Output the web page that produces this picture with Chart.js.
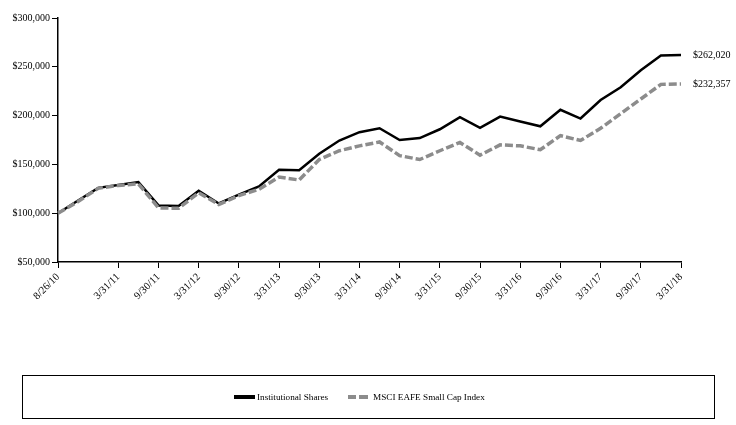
<!DOCTYPE html>
<html>
<head>
<meta charset="utf-8">
<script src="https://cdn.jsdelivr.net/npm/chart.js@4.4.1/dist/chart.umd.min.js"></script>
<style>
  body { margin: 0; background: #fff; }
  #wrap { position: relative; width: 736px; height: 425px; }
  #legend {
    position: absolute; left: 22px; top: 375px; width: 693px; height: 44px;
    border: 1.5px solid #000; box-sizing: border-box;
    font-family: "Liberation Serif", serif; font-size: 9.2px; color: #000;
  }
  .item { position: absolute; top: 14px; display: flex; align-items: center; height: 14px; }
  .sw { width: 21px; height: 4px; margin-right: 2px; }
  .sw.inst { background: #000; }
  .sw.msci { width: 20px; height: 4px; background: repeating-linear-gradient(90deg, #8c8c8c 0 8.5px, transparent 8.5px 11.5px); margin-right: 5px; }
</style>
</head>
<body>
<div id="wrap">
  <canvas id="chart" width="736" height="425"></canvas>
  <div id="legend">
    <div class="item" style="left:211px"><span class="sw inst"></span>Institutional Shares</div>
    <div class="item" style="left:325px"><span class="sw msci"></span>MSCI EAFE Small Cap Index</div>
  </div>
</div>
<script>
  // dates: start, then quarter ends
  const dates = [
    "8/26/10", "9/30/10", "12/31/10",
    "3/31/11", "6/30/11", "9/30/11", "12/31/11",
    "3/31/12", "6/30/12", "9/30/12", "12/31/12",
    "3/31/13", "6/30/13", "9/30/13", "12/31/13",
    "3/31/14", "6/30/14", "9/30/14", "12/31/14",
    "3/31/15", "6/30/15", "9/30/15", "12/31/15",
    "3/31/16", "6/30/16", "9/30/16", "12/31/16",
    "3/31/17", "6/30/17", "9/30/17", "12/31/17",
    "3/31/18"
  ];
  // only these dates get a tick label
  const shownDates = [
    "8/26/10", "3/31/11", "9/30/11", "3/31/12", "9/30/12", "3/31/13", "9/30/13",
    "3/31/14", "9/30/14", "3/31/15", "9/30/15", "3/31/16", "9/30/16",
    "3/31/17", "9/30/17", "3/31/18"
  ];

  const institutional = [
    100000, 113000, 126000, 129000, 132000, 108000, 107500, 123000,
    110000, 119000, 127500, 144500, 144000, 161000, 174500, 183000,
    187000, 175000, 177000, 186000, 198500, 187500, 199000, 194000,
    189000, 206000, 197000, 216000, 229000, 246500, 261500, 262020
  ];
  const msciSmallCap = [
    100000, 112000, 125500, 128500, 130000, 105500, 105000, 121000,
    109000, 118000, 124500, 137000, 134000, 155000, 164000, 169000,
    173000, 159000, 155000, 164000, 172500, 159500, 170000, 169000,
    165000, 179500, 174500, 187000, 202000, 217000, 232000, 232357
  ];

  const yTicks = [50000, 100000, 150000, 200000, 250000, 300000];

  const money = v => "$" + v.toLocaleString("en-US");
  const FONT = { family: "'Liberation Serif', serif", size: 10 };

  // labels with the final values, right of the last point
  const endLabels = {
    id: "endLabels",
    afterDatasetsDraw(chart) {
      const { ctx, scales } = chart;
      ctx.save();
      ctx.font = "10px 'Liberation Serif', serif";
      ctx.fillStyle = "#000";
      ctx.textBaseline = "middle";
      chart.data.datasets.forEach(ds => {
        const last = ds.data.length - 1;
        const x = scales.x.getPixelForValue(last) + 12;
        const y = scales.y.getPixelForValue(ds.data[last]);
        ctx.fillText(money(ds.data[last]), x, y);
      });
      ctx.restore();
    }
  };

  new Chart(document.getElementById("chart"), {
    type: "line",
    data: {
      labels: dates,
      datasets: [
        {
          label: "Institutional Shares",
          data: institutional,
          borderColor: "#000",
          borderWidth: 2.5,
          pointRadius: 0,
          tension: 0,
          order: 1
        },
        {
          label: "MSCI EAFE Small Cap Index",
          data: msciSmallCap,
          borderColor: "#8c8c8c",
          borderWidth: 3.5,
          borderDash: [8, 3],
          pointRadius: 0,
          tension: 0,
          order: 0
        }
      ]
    },
    options: {
      responsive: false,
      animation: false,
      layout: { padding: { left: 0, right: 55, top: 18, bottom: 0 } },
      plugins: { legend: { display: false }, tooltip: { enabled: false } },
      scales: {
        x: {
          offset: false,
          border: { color: "#000", width: 1.5 },
          grid: {
            drawOnChartArea: false,
            tickLength: 6,
            color: c => (c.tick && shownDates.includes(c.tick.label) ? "#000" : "rgba(0,0,0,0)")
          },
          ticks: {
            autoSkip: false,
            maxRotation: 45,
            minRotation: 45,
            color: "#000",
            font: { family: "'Liberation Serif', serif", size: 10.5 },
            padding: 3,
            callback: function (v, i) {
              return shownDates.includes(dates[i]) ? dates[i] : "";
            }
          },
          afterFit: s => { s.height = 163; }
        },
        y: {
          min: 50000,
          max: 300000,
          border: { color: "#000", width: 1.5 },
          grid: { drawOnChartArea: false, tickLength: 6, color: "#000" },
          afterBuildTicks: s => { s.ticks = yTicks.map(v => ({ value: v })); },
          ticks: { color: "#000", font: FONT, padding: 2, callback: v => money(v) },
          afterFit: s => { s.width = 58; }
        }
      }
    },
    plugins: [endLabels]
  });
</script>
</body>
</html>
